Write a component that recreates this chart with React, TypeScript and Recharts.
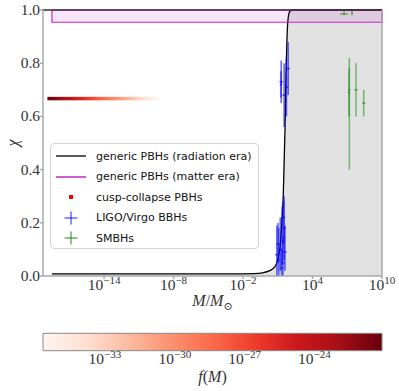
import React from "react"
import {
  Area,
  ComposedChart,
  ErrorBar,
  Legend,
  ReferenceArea,
  ReferenceLine,
  Scatter,
  XAxis,
  YAxis,
} from "recharts"

const SERIF = "'Liberation Serif', 'DejaVu Serif', serif"
const SANS = "'DejaVu Sans', sans-serif"

// x values are log10(M / Msun)
const curveLogM = [-18.5, -14, -10, -6, -3, -1, -0.3, 0.3, 0.76, 1.05, 1.2, 1.35, 1.48, 1.63, 1.71, 1.8, 1.9, 2.05, 2.3, 4, 7, 10]
const curveChi = [0.008, 0.008, 0.008, 0.008, 0.008, 0.009, 0.012, 0.02, 0.035, 0.07, 0.11, 0.2, 0.31, 0.56, 0.76, 0.9, 0.97, 0.995, 1, 1, 1, 1]

const matterLogM = [-18.5, 10]
const matterChi = [0.954, 1]

const cuspChi = 0.667
const cuspLogM = [-18.7, -18.4, -18.1, -17.8, -17.5, -17.2, -16.9, -16.6, -16.3, -16.0, -15.7, -15.4, -15.1, -14.8, -14.5, -14.2, -13.9, -13.6, -13.3, -13.0, -12.7, -12.4, -12.1, -11.8, -11.5, -11.2, -10.9, -10.6, -10.3, -10.0, -9.7, -9.4]
const cuspLogF = [-21.2, -21.7, -22.1, -22.6, -23.1, -23.5, -24.0, -24.5, -24.9, -25.4, -25.8, -26.3, -26.8, -27.2, -27.7, -28.2, -28.6, -29.1, -29.6, -30.0, -30.5, -30.9, -31.4, -31.9, -32.3, -32.8, -33.3, -33.7, -34.2, -34.6, -35.1, -35.6]

const ligoLogM = [1.30, 1.55, 1.75, 1.90, 1.28, 0.92, 1.08, 1.22, 1.38, 1.55, 1.45, 1.62, 1.02, 1.33, 1.50]
const ligoChi = [0.73, 0.68, 0.71, 0.78, 0.72, 0.08, 0.06, 0.10, 0.13, 0.18, 0.05, 0.09, 0.12, 0.03, 0.22]
const ligoChiLo = [0.08, 0.12, 0.11, 0.10, 0.05, 0.08, 0.06, 0.08, 0.09, 0.12, 0.05, 0.07, 0.07, 0.03, 0.10]
const ligoChiHi = [0.08, 0.12, 0.11, 0.10, 0.05, 0.11, 0.12, 0.12, 0.13, 0.12, 0.10, 0.10, 0.08, 0.07, 0.06]
const ligoLogMErr = [0.15, 0.15, 0.15, 0.15, 0.1, 0.15, 0.15, 0.15, 0.15, 0.15, 0.15, 0.15, 0.15, 0.15, 0.15]

const smbhLogM = [7.18, 7.15, 7.76, 8.42, 6.72, 7.41]
const smbhChi = [0.70, 0.69, 0.70, 0.65, 0.985, 0.99]
const smbhChiLo = [0.30, 0.09, 0.10, 0.05, 0.005, 0.01]
const smbhChiHi = [0.12, 0.09, 0.10, 0.05, 0.015, 0.01]
const smbhLogMErr = [0.1, 0.1, 0.15, 0.15, 0.35, 0.05]

const xTicks = [-14, -8, -2, 4, 10]
const yTicks = [0, 0.2, 0.4, 0.6, 0.8, 1]
const cbarTicks = [-33, -30, -27, -24]
const cbarRange = [-35.66, -21.1]

const legendLabels = [
  "generic PBHs (radiation era)",
  "generic PBHs (matter era)",
  "cusp-collapse PBHs",
  "LIGO/Virgo BBHs",
  "SMBHs",
]

// matplotlib "Reds"
const REDS = ["#fff5f0", "#fee0d2", "#fcbba1", "#fc9272", "#fb6a4a", "#ef3b2c", "#cb181d", "#a50f15", "#67000d"]

function hexRgb(h: string) {
  return [1, 3, 5].map((i) => parseInt(h.slice(i, i + 2), 16))
}

function redsColor(logF: number) {
  const t = Math.max(0, Math.min(1, (logF - cbarRange[0]) / (cbarRange[1] - cbarRange[0])))
  const c = t * (REDS.length - 1)
  const i = Math.min(Math.floor(c), REDS.length - 2)
  const f = c - i
  const a = hexRgb(REDS[i])
  const b = hexRgb(REDS[i + 1])
  const m = a.map((v, k) => Math.round(v + (b[k] - v) * f))
  return `rgb(${m[0]},${m[1]},${m[2]})`
}

const curveData = curveLogM.map((x, i) => ({ x, y: curveChi[i] }))
const cuspData = cuspLogM.map((x, i) => ({ x, y: cuspChi, f: cuspLogF[i] }))
const ligoData = ligoLogM.map((x, i) => ({
  x,
  y: ligoChi[i],
  yErr: [ligoChiLo[i], ligoChiHi[i]],
  xErr: ligoLogMErr[i],
}))
const smbhData = smbhLogM.map((x, i) => ({
  x,
  y: smbhChi[i],
  yErr: [smbhChiLo[i], smbhChiHi[i]],
  xErr: smbhLogMErr[i],
}))
const cbarData = cbarTicks.map((x) => ({ x, y: 0.5 }))

function expLabel(v: number) {
  return v < 0 ? `\u2212${Math.abs(v)}` : `${v}`
}

const PowTick = ({ x, y, payload }: any) => (
  <text x={x} y={y + 9} textAnchor="middle" fontFamily={SERIF} fontSize={15.5} fill="#333">
    10
    <tspan dy={-6} fontSize={11}>
      {expLabel(payload.value)}
    </tspan>
  </text>
)

const ChiTick = ({ x, y, payload }: any) => (
  <text x={x} y={y + 5} textAnchor="end" fontFamily={SERIF} fontSize={15.5} fill="#333">
    {payload.value.toFixed(1)}
  </text>
)

const CuspSquare = ({ cx, cy, payload }: any) => (
  <rect x={cx - 2.2} y={cy - 1.7} width={4.4} height={3.4} fill={redsColor(payload.f)} />
)

const NoMark = () => <g />

function LegendHandle({ i }: { i: number }) {
  if (i === 0) return <line x1={5} x2={35} y1={8} y2={8} stroke="#000" strokeWidth={1.3} />
  if (i === 1) return <line x1={5} x2={35} y1={8} y2={8} stroke="#bf00bf" strokeWidth={1.3} />
  if (i === 2) return <rect x={18} y={6} width={4} height={4} fill="#ff0000" />
  const c = i === 3 ? "#0000ff" : "#008000"
  return (
    <g stroke={c} strokeOpacity={0.6} strokeWidth={1.5}>
      <line x1={13.5} x2={26.5} y1={8} y2={8} />
      <line x1={20} x2={20} y1={1.5} y2={14.5} />
    </g>
  )
}

const LegendBox = () => (
  <div
    style={{
      width: 209,
      height: 106,
      boxSizing: "border-box",
      border: "1px solid #d4d4d4",
      borderRadius: 4,
      background: "rgba(255,255,255,0.8)",
      position: "relative",
      fontFamily: SANS,
      fontSize: 11,
      color: "#111",
    }}
  >
    {legendLabels.map((label, i) => (
      <div
        key={label}
        style={{
          position: "absolute",
          left: 0,
          top: 4 + i * 20.6,
          height: 16,
          display: "flex",
          alignItems: "center",
          whiteSpace: "nowrap",
        }}
      >
        <svg width={45} height={16} style={{ display: "block" }}>
          <LegendHandle i={i} />
        </svg>
        <span>{label}</span>
      </div>
    ))}
  </div>
)

export default function App() {
  return (
    <div style={{ position: "absolute", left: 0, top: 0, width: 399, height: 391, background: "#fff" }}>
      <ComposedChart
        width={399}
        height={320}
        data={curveData}
        margin={{ top: 10, right: 17, bottom: 0, left: 0 }}
      >
        <XAxis
          dataKey="x"
          type="number"
          domain={[-19.27, 10]}
          allowDataOverflow
          ticks={xTicks}
          tick={<PowTick />}
          tickSize={3}
          height={44}
          stroke="#aaaaaa"
          strokeWidth={1.5}
          label={{
            content: () => (
              <text x={212.5} y={306} textAnchor="middle" fontFamily={SERIF} fontSize={16} fill="#333">
                <tspan fontStyle="italic">M</tspan>/<tspan fontStyle="italic">M</tspan>
                <tspan dy={4} fontSize={11}>⊙</tspan>
              </text>
            ),
          }}
        />
        <YAxis
          type="number"
          domain={[0, 1]}
          ticks={yTicks}
          width={43}
          tickSize={3}
          tickMargin={0}
          tick={<ChiTick />}
          stroke="#aaaaaa"
          strokeWidth={1.5}
          label={{
            content: () => (
              <text
                x={12}
                y={143}
                transform="rotate(-90 12 143)"
                textAnchor="middle"
                dominantBaseline="central"
                fontFamily={SERIF}
                fontStyle="italic"
                fontSize={16}
                fill="#333"
              >
                χ
              </text>
            ),
          }}
        />
        <Area
          type="monotone"
          dataKey="y"
          stroke="#000"
          strokeWidth={1.3}
          fill="#e2e2e2"
          fillOpacity={1}
          dot={false}
          activeDot={false}
          isAnimationActive={false}
        />
        <ReferenceArea
          x1={matterLogM[0]}
          x2={matterLogM[1]}
          y1={matterChi[0]}
          y2={matterChi[1]}
          fill="#bf00bf"
          fillOpacity={0.1}
          stroke="#cc22cc"
          strokeWidth={1.2}
        />
        <ReferenceLine y={1} stroke="#3a2a3a" strokeWidth={1.3} />
        <ReferenceLine x={10} stroke="#aaaaaa" strokeWidth={1.5} />
        <Scatter data={cuspData} dataKey="y" shape={<CuspSquare />} isAnimationActive={false} />
        <Scatter data={ligoData} dataKey="y" shape={<NoMark />} isAnimationActive={false}>
          <ErrorBar dataKey="yErr" direction="y" width={0} stroke="#0000ff" strokeOpacity={0.6} strokeWidth={1.6} isAnimationActive={false} />
          <ErrorBar dataKey="xErr" direction="x" width={0} stroke="#0000ff" strokeOpacity={0.6} strokeWidth={1.6} isAnimationActive={false} />
        </Scatter>
        <Scatter data={smbhData} dataKey="y" shape={<NoMark />} isAnimationActive={false}>
          <ErrorBar dataKey="yErr" direction="y" width={0} stroke="#008000" strokeOpacity={0.5} strokeWidth={1.5} isAnimationActive={false} />
          <ErrorBar dataKey="xErr" direction="x" width={0} stroke="#008000" strokeOpacity={0.5} strokeWidth={1.5} isAnimationActive={false} />
        </Scatter>
        <Legend
          layout="horizontal"
          verticalAlign="middle"
          align="center"
          content={<LegendBox />}
          wrapperStyle={{ left: 50, top: 143, width: 209, height: 106 }}
        />
      </ComposedChart>

      <div style={{ position: "absolute", left: 0, top: 320 }}>
        <ComposedChart
          width={399}
          height={71}
          data={cbarData}
          margin={{ top: 13.3, right: 17, bottom: 0, left: 43 }}
        >
          <defs>
            <linearGradient id="redsGrad" x1="0" x2="1" y1="0" y2="0">
              {REDS.map((c, i) => (
                <stop key={c} offset={i / (REDS.length - 1)} stopColor={c} />
              ))}
            </linearGradient>
          </defs>
          <XAxis
            dataKey="x"
            type="number"
            domain={cbarRange}
            allowDataOverflow
            ticks={cbarTicks}
            tick={<PowTick />}
            tickSize={2}
            tickLine={false}
            axisLine={false}
            height={40.3}
            label={{
              content: () => (
                <text x={212.5} y={62} textAnchor="middle" fontFamily={SERIF} fontSize={16} fill="#333">
                  <tspan fontStyle="italic">f</tspan>(<tspan fontStyle="italic">M</tspan>)
                </text>
              ),
            }}
          />
          <YAxis dataKey="y" type="number" domain={[0, 1]} width={0} tick={false} axisLine={false} tickLine={false} />
          <Scatter data={cbarData} dataKey="y" shape={<NoMark />} isAnimationActive={false} />
          <ReferenceArea
            x1={cbarRange[0]}
            x2={cbarRange[1]}
            y1={0}
            y2={1}
            fill="url(#redsGrad)"
            fillOpacity={1}
            stroke="#888"
            strokeWidth={1}
            ifOverflow="visible"
          />
        </ComposedChart>
      </div>
    </div>
  )
}
